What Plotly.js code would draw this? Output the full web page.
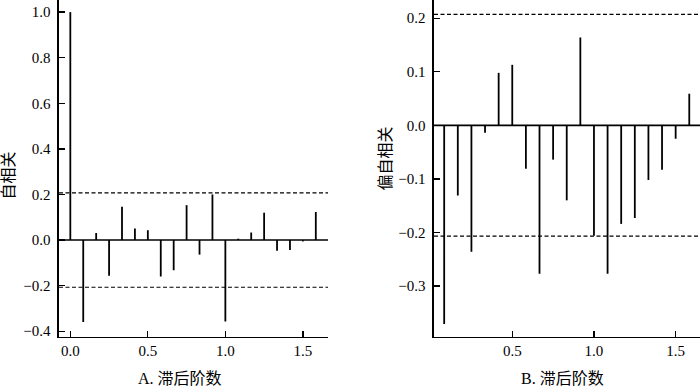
<!DOCTYPE html>
<html>
<head>
<meta charset="utf-8">
<script src="https://cdn.plot.ly/plotly-3.0.1.min.js"></script>
<style>html,body{margin:0;padding:0;background:#fff;}#chart{width:700px;height:386px;}</style>
</head>
<body>
<div id="chart"></div>
<script>
// Lags are in years (lag k / 12)
var acfLags = [0,1,2,3,4,5,6,7,8,9,10,11,12,13,14,15,16,17,18,19];
var acfValues = [1.0,-0.36,0.031,-0.157,0.146,0.051,0.043,-0.16,-0.133,0.153,-0.064,0.2,-0.357,0.006,0.033,0.12,-0.047,-0.044,-0.006,0.123];
var pacfLags = [1,2,3,4,5,6,7,8,9,10,11,12,13,14,15,16,17,18,19];
var pacfValues = [-0.371,-0.131,-0.236,-0.014,0.098,0.113,-0.081,-0.277,-0.064,-0.140,0.164,-0.206,-0.277,-0.184,-0.173,-0.102,-0.083,-0.025,0.059];
var confBound = 0.207;
var lagsPerUnit = 12;
var titleY_A = '自相关';
var titleY_B = '偏自相关';
var titleX_A = 'A. 滞后阶数';
var titleX_B = 'B. 滞后阶数';

function stems(lags, vals) {
  var xs = [], ys = [];
  for (var i = 0; i < lags.length; i++) {
    var x = lags[i] / lagsPerUnit;
    xs.push(x, x, null);
    ys.push(0, vals[i], null);
  }
  return {xs: xs, ys: ys};
}
var sA = stems(acfLags, acfValues);
var sB = stems(pacfLags, pacfValues);

var fontFam = "Liberation Serif, Noto Sans CJK SC, serif";
var tickFam = "Liberation Serif";

var traces = [
  {type:'scatter', mode:'lines', x:sA.xs, y:sA.ys, xaxis:'x', yaxis:'y',
   line:{color:'#000', width:1.8}, hoverinfo:'skip', showlegend:false, connectgaps:false},
  {type:'scatter', mode:'lines', x:sB.xs, y:sB.ys, xaxis:'x2', yaxis:'y2',
   line:{color:'#000', width:1.8}, hoverinfo:'skip', showlegend:false, connectgaps:false}
];

function hline(xref, yref, yv, dash) {
  return {type:'line', xref: xref + ' domain', yref: yref, x0:0, x1:1, y0:yv, y1:yv,
          line:{color:'#000', width: dash ? 1.2 : 1.6, dash: dash ? '4px,2.5px' : 'solid'}};
}

var axCommon = {
  showline:true, linecolor:'#000', linewidth:1.6, mirror:false,
  ticks:'inside', ticklen:6, tickwidth:1.3, tickcolor:'#000',
  showgrid:false, zeroline:false, tickformat:'.1f',
  tickfont:{family:tickFam, size:15, color:'#000'}
};

function ax(extra) { return Object.assign({}, axCommon, extra); }

var layout = {
  width:700, height:386,
  margin:{l:0, r:0, t:0, b:0},
  paper_bgcolor:'#fff', plot_bgcolor:'#fff',
  font:{family:fontFam, size:15, color:'#000'},
  showlegend:false,
  xaxis: ax({domain:[59/700, 328/700], range:[-0.073, 1.662], dtick:0.5, tick0:0, anchor:'y'}),
  yaxis: ax({domain:[(386-336.7)/386, 1], range:[-0.424, 1.053], dtick:0.2, tick0:0, anchor:'x', ticklabelstandoff:4}),
  xaxis2: ax({domain:[434/700, 1], range:[0.021, 1.649], dtick:0.5, tick0:0, anchor:'y2'}),
  yaxis2: ax({domain:[(386-336.7)/386, 1], range:[-0.3946, 0.234], dtick:0.1, tick0:0, anchor:'x2', ticklabelstandoff:4}),
  shapes: [
    hline('x','y',0,false), hline('x','y',confBound,true), hline('x','y',-confBound,true),
    hline('x2','y2',0,false), hline('x2','y2',confBound,true), hline('x2','y2',-confBound,true)
  ],
  annotations: [
    {text:titleX_A, xref:'paper', yref:'paper', x:180/700, y:(386-378)/386, xanchor:'center', yanchor:'middle', showarrow:false, font:{family:fontFam, size:16}},
    {text:titleX_B, xref:'paper', yref:'paper', x:562.5/700, y:(386-378)/386, xanchor:'center', yanchor:'middle', showarrow:false, font:{family:fontFam, size:16}},
    {text:titleY_A, xref:'paper', yref:'paper', x:8.5/700, y:(386-176)/386, xanchor:'center', yanchor:'middle', textangle:-90, showarrow:false, font:{family:fontFam, size:16}},
    {text:titleY_B, xref:'paper', yref:'paper', x:385/700, y:(386-158.5)/386, xanchor:'center', yanchor:'middle', textangle:-90, showarrow:false, font:{family:fontFam, size:16}}
  ]
};

Plotly.newPlot('chart', traces, layout, {staticPlot:true, displayModeBar:false});
</script>
</body>
</html>
